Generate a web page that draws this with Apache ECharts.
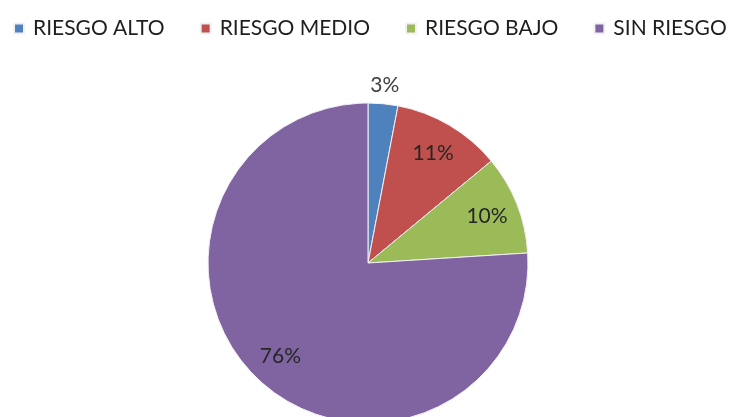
<!DOCTYPE html>
<html>
<head>
<meta charset="utf-8">
<script src="https://cdn.jsdelivr.net/npm/echarts@6/dist/echarts.min.js"></script>
<style>
  html, body { margin: 0; padding: 0; background: #fff; }
  #chart { width: 732px; height: 417px; }
</style>
</head>
<body>
<div id="chart"></div>
<script>
// categorias y porcentajes
var categorias = ['RIESGO ALTO', 'RIESGO MEDIO', 'RIESGO BAJO', 'SIN RIESGO'];
var porcentajes = [3, 11, 10, 76];
var colores = ['#4F81BD', '#C0504D', '#9BBB59', '#8064A2'];

var chart = echarts.init(document.getElementById('chart'));

// datos de la serie principal
var datos = [];
for (var i = 0; i < categorias.length; i++) {
    datos.push({ name: categorias[i], value: porcentajes[i], itemStyle: { color: colores[i] } });
}

// anillos invisibles solo para colocar las etiquetas
var datosEtiq = [];
var datosFuera = [];
for (var i = 0; i < categorias.length; i++) {
    datosEtiq.push({ name: categorias[i], value: porcentajes[i], label: { show: i > 0 } });
    datosFuera.push({ name: categorias[i], value: porcentajes[i], label: { show: i == 0 } });
}

var legendData = [];
for (var i = 0; i < categorias.length; i++) {
    legendData.push({ name: categorias[i], itemStyle: { color: colores[i] } });
}

var invisible = {
    type: 'pie',
    center: [368, 263],
    startAngle: 90,
    silent: true,
    itemStyle: { color: 'rgba(0,0,0,0)', borderWidth: 0 },
    emphasis: { disabled: true },
    labelLine: { show: false },
    label: {
        position: 'inside',
        formatter: '{c}%',
        fontFamily: 'Lato',
        fontSize: 21,
        color: '#262626'
    }
};

var option = {
    animation: false,
    backgroundColor: '#fff',
    legend: {
        data: legendData,
        top: 13,
        left: 8,
        width: 724,
        itemWidth: 10,
        itemHeight: 10,
        itemGap: 35,
        icon: 'rect',
        selectedMode: false,
        textStyle: { fontFamily: 'Lato', fontSize: 21, color: '#1e1e1e', padding: [0, 0, 0, 4] }
    },
    series: [
        {
            type: 'pie',
            center: [368, 263],
            radius: [0, 160],
            startAngle: 90,
            label: { show: false },
            labelLine: { show: false },
            itemStyle: { borderColor: '#f4f0f4', borderWidth: 1 },
            data: datos
        },
        Object.assign({}, invisible, { radius: [88, 162], data: datosEtiq }),
        Object.assign({}, invisible, { radius: [166, 186], data: datosFuera,
            label: Object.assign({}, invisible.label, { color: '#404040' }) })
    ]
};

chart.setOption(option);
</script>
</body>
</html>
